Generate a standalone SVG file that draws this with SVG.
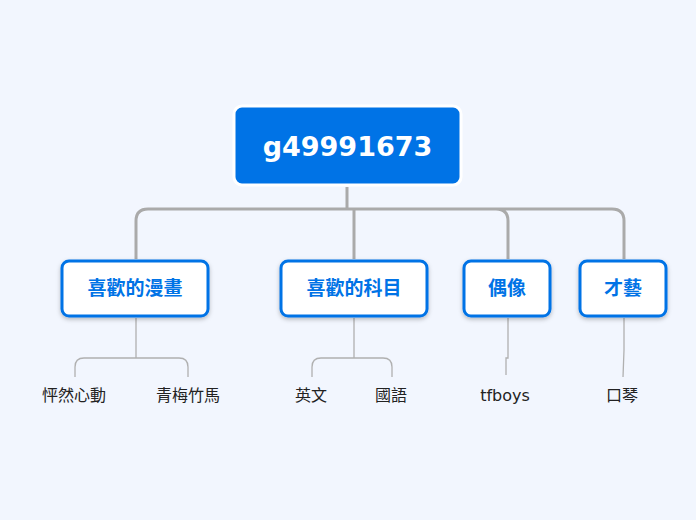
<svg xmlns="http://www.w3.org/2000/svg" width="696" height="520" viewBox="0 0 696 520">
<defs>
<style>
.c{fill:none;stroke:#aaaaaa;stroke-width:3}
.s{fill:none;stroke:#b0b0b0;stroke-width:1.3}
.n{fill:#fff;stroke:#0073e6;stroke-width:3}
.t{font-family:"DejaVu Sans","Noto Sans CJK TC",sans-serif;font-weight:bold;font-size:19px;fill:#0073e6;text-anchor:middle}
.l{font-family:"DejaVu Sans","Noto Sans CJK TC",sans-serif;font-size:16px;fill:#222;text-anchor:middle}
</style>
<filter id="sh" x="-20%" y="-20%" width="140%" height="150%"><feDropShadow dx="0" dy="2" stdDeviation="2" flood-color="#000" flood-opacity="0.25"/></filter>
</defs>
<rect width="696" height="520" fill="#f2f6fe"/>
<g id="connectors">
<path class="c" d="M347 187V209M136 259V221Q136 209 148 209H612Q624 209 624 221V259M354 209V259M508 259V221Q508 209 496 209"/>
<path class="s" d="M136 318V358M75 377V367Q75 358 84 358H179Q188 358 188 367V377"/>
<path class="s" d="M354 318V358M312 377V367Q312 358 321 358H383Q392 358 392 367V377"/>
<path class="s" d="M508 318V358H506V375"/>
<path class="s" d="M624 318V350L623 377"/>
</g>
<g id="root">
<rect x="234" y="106" width="227" height="79" rx="8" fill="#0073e6" stroke="#fff" stroke-width="3"/>
<text x="347.500" y="156" font-family="DejaVu Sans,sans-serif" font-weight="bold" font-size="27" fill="#fff" text-anchor="middle">g49991673</text>
</g>
<g id="n1"><rect class="n" x="62" y="261" width="146" height="55" rx="7" filter="url(#sh)"/><text class="t" x="135" y="295">喜歡的漫畫</text></g>
<g id="n2"><rect class="n" x="281" y="261" width="146" height="55" rx="7" filter="url(#sh)"/><text class="t" x="354" y="295">喜歡的科目</text></g>
<g id="n3"><rect class="n" x="464" y="261" width="86" height="55" rx="7" filter="url(#sh)"/><text class="t" x="507" y="295">偶像</text></g>
<g id="n4"><rect class="n" x="580" y="261" width="86" height="55" rx="7" filter="url(#sh)"/><text class="t" x="623" y="295">才藝</text></g>
<g id="leaves">
<text class="l" x="74" y="401">怦然心動</text>
<text class="l" x="188" y="401">青梅竹馬</text>
<text class="l" x="311" y="401">英文</text>
<text class="l" x="391" y="401">國語</text>
<text class="l" x="505" y="401">tfboys</text>
<text class="l" x="622" y="401">口琴</text>
</g>
</svg>
